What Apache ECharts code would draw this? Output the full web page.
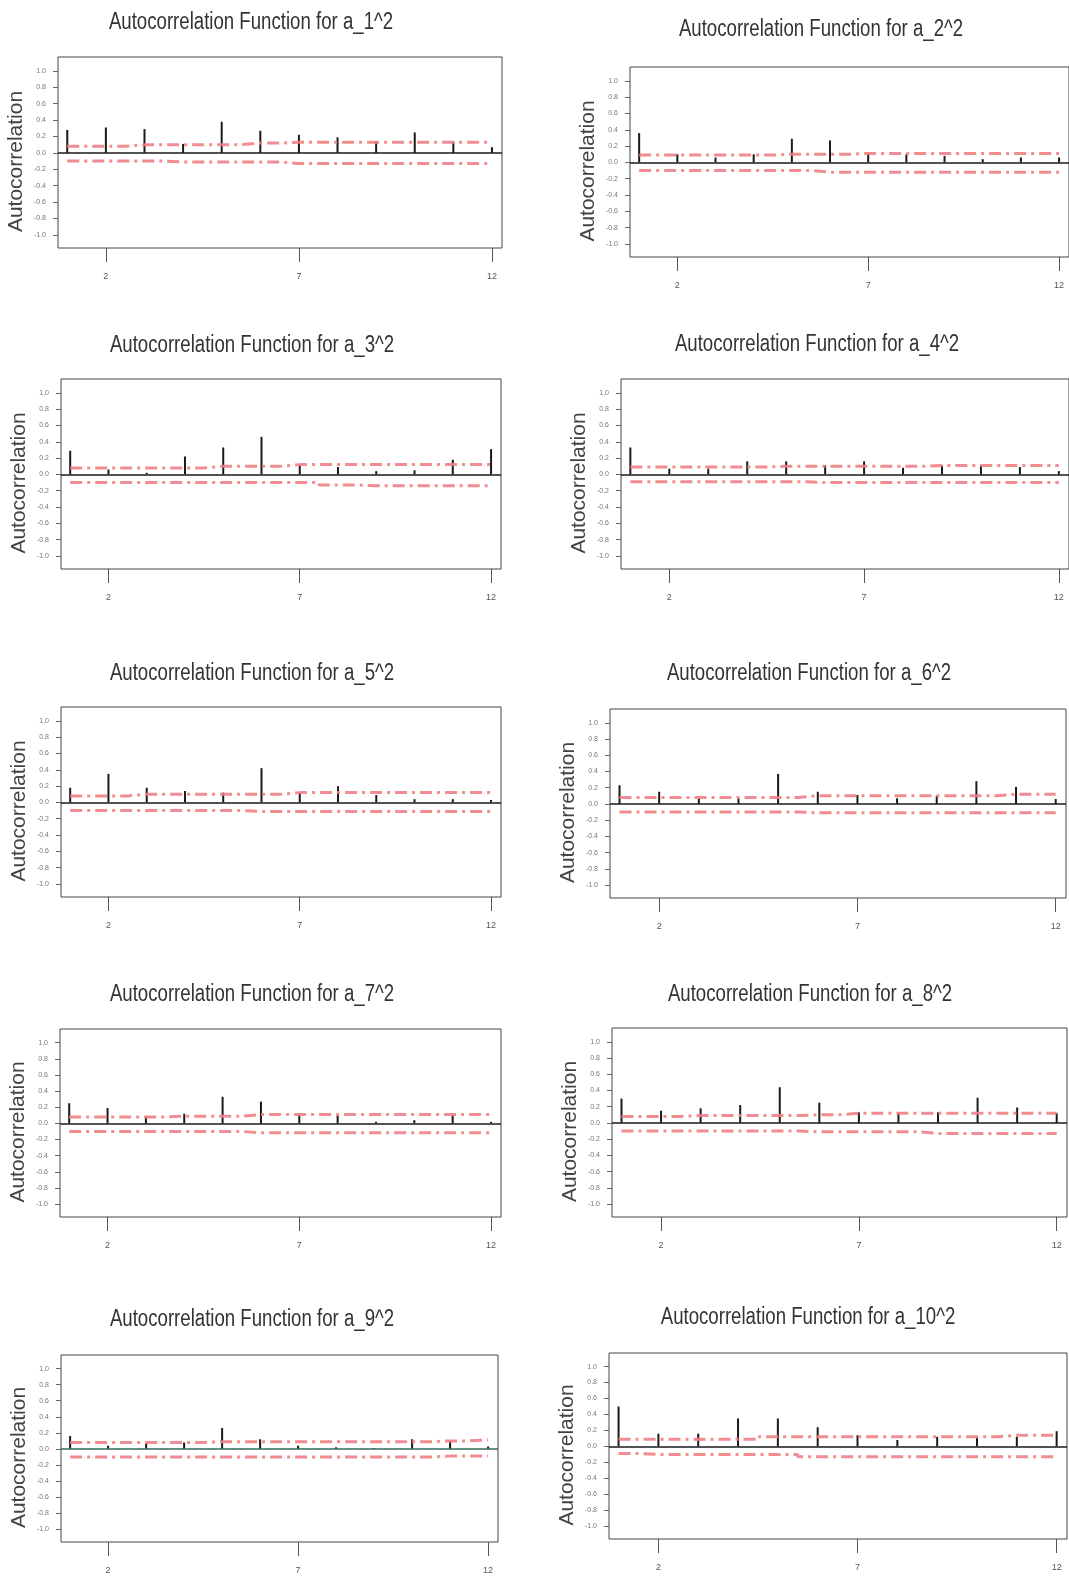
<!DOCTYPE html>
<html>
<head>
<meta charset="utf-8">
<script src="https://cdn.jsdelivr.net/npm/echarts@6/dist/echarts.min.js"></script>
<style>
html,body{margin:0;padding:0;background:#fff;}
#chart{width:1069px;height:1576px;}
</style>
</head>
<body>
<div id="chart"></div>
<script>
// ---- data ----
const lags = [1,2,3,4,5,6,7,8,9,10,11,12];
const xTickValues = [2, 7, 12];
const yTickValues = [-1.0,-0.8,-0.6,-0.4,-0.2,0.0,0.2,0.4,0.6,0.8,1.0];
const titles = [
  "Autocorrelation Function for a_1^2",
  "Autocorrelation Function for a_2^2",
  "Autocorrelation Function for a_3^2",
  "Autocorrelation Function for a_4^2",
  "Autocorrelation Function for a_5^2",
  "Autocorrelation Function for a_6^2",
  "Autocorrelation Function for a_7^2",
  "Autocorrelation Function for a_8^2",
  "Autocorrelation Function for a_9^2",
  "Autocorrelation Function for a_10^2"
];
const yAxisName = "Autocorrelation";

const acf1  = [0.28,0.31,0.29,0.11,0.38,0.27,0.22,0.19,0.14,0.25,0.14,0.07];
const acf2  = [0.36,0.10,0.06,0.10,0.29,0.27,0.11,0.10,0.08,0.04,0.06,0.06];
const acf3  = [0.29,0.06,0.02,0.22,0.33,0.46,0.11,0.09,0.04,0.05,0.18,0.31];
const acf4  = [0.33,0.07,0.07,0.16,0.16,0.11,0.16,0.08,0.11,0.11,0.09,0.04];
const acf5  = [0.18,0.35,0.18,0.14,0.12,0.42,0.12,0.20,0.09,0.04,0.04,0.03];
const acf6  = [0.23,0.15,0.07,0.07,0.37,0.15,0.11,0.07,0.10,0.28,0.21,0.06];
const acf7  = [0.25,0.19,0.09,0.12,0.33,0.27,0.11,0.10,0.02,0.04,0.11,0.02];
const acf8  = [0.30,0.15,0.18,0.22,0.44,0.25,0.13,0.13,0.13,0.31,0.19,0.12];
const acf9  = [0.16,0.04,0.07,0.08,0.26,0.12,0.04,0.02,0.01,0.12,0.10,0.03];
const acf10 = [0.50,0.16,0.16,0.35,0.35,0.24,0.14,0.08,0.12,0.12,0.12,0.19];

const upper1  = [0.08,0.08,0.10,0.10,0.10,0.12,0.13,0.13,0.13,0.13,0.13,0.13];
const lower1  = [-0.10,-0.10,-0.10,-0.11,-0.11,-0.11,-0.13,-0.13,-0.13,-0.13,-0.13,-0.13];
const upper2  = [0.09,0.09,0.09,0.09,0.10,0.10,0.11,0.11,0.11,0.11,0.11,0.11];
const lower2  = [-0.10,-0.10,-0.10,-0.10,-0.10,-0.12,-0.12,-0.12,-0.12,-0.12,-0.12,-0.12];
const upper3  = [0.08,0.08,0.08,0.08,0.10,0.10,0.12,0.12,0.12,0.12,0.12,0.12];
const lower3  = [-0.10,-0.10,-0.10,-0.10,-0.10,-0.10,-0.10,-0.13,-0.14,-0.14,-0.14,-0.14];
const upper4  = [0.09,0.09,0.09,0.09,0.10,0.10,0.10,0.10,0.11,0.11,0.11,0.11];
const lower4  = [-0.09,-0.09,-0.09,-0.09,-0.09,-0.10,-0.10,-0.10,-0.10,-0.10,-0.10,-0.10];
const upper5  = [0.08,0.08,0.10,0.10,0.10,0.10,0.12,0.12,0.12,0.12,0.12,0.12];
const lower5  = [-0.10,-0.10,-0.10,-0.10,-0.10,-0.11,-0.11,-0.11,-0.11,-0.11,-0.11,-0.11];
const upper6  = [0.08,0.08,0.08,0.08,0.08,0.10,0.10,0.10,0.10,0.10,0.12,0.12];
const lower6  = [-0.10,-0.10,-0.10,-0.10,-0.10,-0.11,-0.11,-0.11,-0.11,-0.11,-0.11,-0.11];
const upper7  = [0.08,0.08,0.08,0.09,0.09,0.11,0.11,0.11,0.11,0.11,0.11,0.11];
const lower7  = [-0.10,-0.10,-0.10,-0.10,-0.10,-0.115,-0.115,-0.115,-0.115,-0.115,-0.115,-0.115];
const upper8  = [0.08,0.08,0.09,0.09,0.09,0.10,0.12,0.12,0.12,0.12,0.12,0.12];
const lower8  = [-0.10,-0.10,-0.10,-0.10,-0.10,-0.11,-0.11,-0.11,-0.13,-0.13,-0.13,-0.13];
const upper9  = [0.08,0.08,0.08,0.08,0.09,0.09,0.09,0.09,0.09,0.09,0.10,0.11];
const lower9  = [-0.10,-0.10,-0.10,-0.10,-0.10,-0.10,-0.10,-0.10,-0.10,-0.10,-0.09,-0.09];
const upper10 = [0.09,0.09,0.09,0.09,0.12,0.12,0.12,0.12,0.12,0.12,0.14,0.14];
const lower10 = [-0.09,-0.10,-0.10,-0.10,-0.10,-0.13,-0.13,-0.13,-0.13,-0.13,-0.13,-0.13];

const acfs = [acf1,acf2,acf3,acf4,acf5,acf6,acf7,acf8,acf9,acf10];
const uppers = [upper1,upper2,upper3,upper4,upper5,upper6,upper7,upper8,upper9,upper10];
const lowers = [lower1,lower2,lower3,lower4,lower5,lower6,lower7,lower8,lower9,lower10];

// ---- layout (pixels) ----
const boxes = [
  {l:58,  t:57,   w:444, h:191, tx:251, ty:23},
  {l:630, t:67,   w:439, h:190, tx:821, ty:30},
  {l:61,  t:379,  w:440, h:190, tx:252, ty:346},
  {l:621, t:379,  w:448, h:190, tx:817, ty:345},
  {l:61,  t:707,  w:440, h:190, tx:252, ty:674},
  {l:610, t:709,  w:456, h:189, tx:809, ty:674},
  {l:60,  t:1029, w:441, h:188, tx:252, ty:995},
  {l:612, t:1028, w:455, h:189, tx:810, ty:995},
  {l:61,  t:1355, w:437, h:187, tx:252, ty:1320},
  {l:609, t:1353, w:458, h:186, tx:808, ty:1318}
];
const zeroColors = ['#1a1a1a','#1a1a1a','#1a1a1a','#1a1a1a','#1a1a1a','#1a1a1a','#1a1a1a','#1a1a1a','#2f6b5a','#1a1a1a'];

const grids = [], xAxes = [], yAxes = [], series = [], graphics = [];
boxes.forEach((b, i) => {
  grids.push({left:b.l, top:b.t, width:b.w, height:b.h, show:true,
    borderColor:'#444', borderWidth:1, backgroundColor:'transparent', containLabel:false});
  xAxes.push({type:'value', gridIndex:i, min:0.76, max:12.26, position:'bottom',
    axisLine:{show:false, onZero:false}, splitLine:{show:false},
    axisTick:{show:true, customValues:xTickValues, length:14, lineStyle:{color:'#555', width:1}},
    axisLabel:{show:true, customValues:xTickValues, fontSize:9, color:'#555', margin:24,
      fontFamily:'Liberation Sans'}});
  yAxes.push({type:'value', gridIndex:i, min:-1.16, max:1.17,
    name:yAxisName, nameLocation:'middle', nameRotate:90, nameGap:31,
    nameTextStyle:{fontSize:21, color:'#444', fontFamily:'Liberation Sans', padding:[0,18,0,0]},
    axisLine:{show:false, onZero:false}, splitLine:{show:false},
    axisTick:{show:true, customValues:yTickValues, length:5, lineStyle:{color:'#666'}},
    axisLabel:{show:true, customValues:yTickValues, fontSize:7, color:'#777', margin:12,
      fontFamily:'Liberation Sans', formatter:v => Number(v).toFixed(1)}});
  series.push({type:'bar', xAxisIndex:i, yAxisIndex:i, barWidth:2, silent:true,
    itemStyle:{color:'#1a1a1a'},
    data: lags.map((l,k) => [l, acfs[i][k]]),
    markLine:{silent:true, symbol:['none','none'], label:{show:false},
      lineStyle:{color:zeroColors[i], width:1.5, type:'solid'},
      data:[{yAxis:0}]}});
  const bandStyle = {color:'#ef7f84', width:3, type:[12,5,3,5], opacity:0.9};
  series.push({type:'line', xAxisIndex:i, yAxisIndex:i, step:'middle', symbol:'none', silent:true,
    lineStyle:bandStyle, data: lags.map((l,k) => [l, uppers[i][k]])});
  series.push({type:'line', xAxisIndex:i, yAxisIndex:i, step:'middle', symbol:'none', silent:true,
    lineStyle:bandStyle, data: lags.map((l,k) => [l, lowers[i][k]])});
  graphics.push({type:'text', x:b.tx, y:b.ty, scaleX:0.81, silent:true,
    style:{text:titles[i], font:'23px "Liberation Sans"', fill:'#333',
      textAlign:'center', textVerticalAlign:'middle'}});
});

const chart = echarts.init(document.getElementById('chart'), null, {renderer:'canvas'});
chart.setOption({
  animation:false,
  backgroundColor:'#fff',
  grid:grids, xAxis:xAxes, yAxis:yAxes, series:series, graphic:graphics
});
</script>
</body>
</html>
